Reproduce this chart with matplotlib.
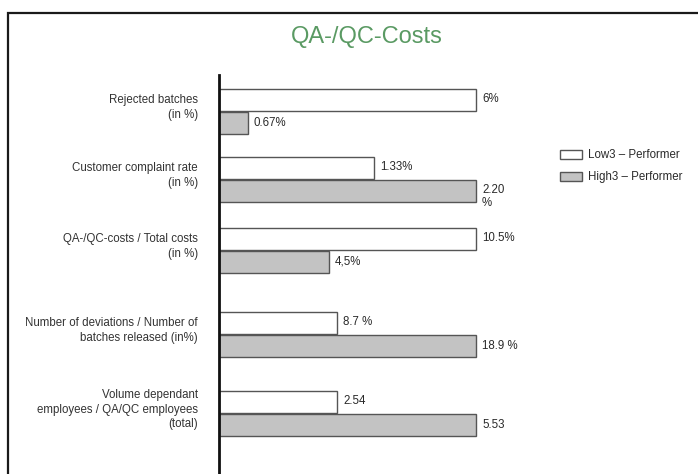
import matplotlib
matplotlib.use("Agg")
import matplotlib.pyplot as plt
from matplotlib.patches import Rectangle, Patch
import numpy as np

# ---- data ----
categories = [
    "Rejected batches\n(in %)",
    "Customer complaint rate\n(in %)",
    "QA-/QC-costs / Total costs\n(in %)",
    "Number of deviations / Number of\nbatches released (in%)",
    "Volume dependant\nemployees / QA/QC employees\n(total)",
]
low3_values = [6.0, 1.33, 10.5, 8.7, 2.54]
high3_values = [0.67, 2.20, 4.5, 18.9, 5.53]
low3_labels = ["6%", "1.33%", "10.5%", "8.7 %", "2.54"]
high3_labels = ["0.67%", "2.20\n%", "4,5%", "18.9 %", "5.53"]
series_names = ["Low3 \u2013 Performer", "High3 \u2013 Performer"]
title = "QA-/QC-Costs"

# ---- layout (pixels) ----
W, H, DPI = 698, 474, 100
row_centres_px = [111, 179, 250, 334, 413]   # vertical centre of each bar pair
axis_x_px, axis_top_px = 219, 75
full_bar_px = 476 - axis_x_px               # length of the longer bar in a pair
bar_h_px = 22

FONT = ["Liberation Sans", "DejaVu Sans"]
plt.rcParams["font.family"] = FONT
GRAY = "#c3c3c3"
EDGE = "#555555"
TEXT = "#2a2a2a"
SMALL = 8.3

fig = plt.figure(figsize=(W / DPI, H / DPI), dpi=DPI)
fig.patch.set_facecolor("white")

# outer frame (open to the right and bottom)
fig.patches.append(Rectangle((8 / W, -0.1), 1.2, 1 - 13 / H + 0.1,
                             transform=fig.transFigure, fill=False,
                             edgecolor="#1a1a1a", linewidth=1.6))

fig.text(367 / W, 1 - 37 / H, title, ha="center", va="center",
         fontsize=17, color="#5a9a63")

# axes in pixel units: x = fraction of the longer bar, y = pixel rows
ax = fig.add_axes([axis_x_px / W, 0, (W - axis_x_px) / W, (H - axis_top_px) / H])
ax.set_xlim(0, (W - axis_x_px) / full_bar_px)
ax.set_ylim(H, axis_top_px)

y = np.array(row_centres_px, dtype=float)
off = bar_h_px / 2 + 0.5

# each indicator is shown relative to the larger of its two values
row_max = np.maximum(low3_values, high3_values)
low_rel = np.array(low3_values) / row_max
high_rel = np.array(high3_values) / row_max

ax.barh(y - off, low_rel, height=bar_h_px, color="white", edgecolor=EDGE, linewidth=1.0)
ax.barh(y + off, high_rel, height=bar_h_px, color=GRAY, edgecolor=EDGE, linewidth=1.0)

pad = 6 / full_bar_px
for i in range(len(categories)):
    ax.text(low_rel[i] + pad, y[i] - off - 1, low3_labels[i], ha="left", va="center",
            fontsize=SMALL, color=TEXT)
    two_line = "\n" in high3_labels[i]
    ax.text(high_rel[i] + pad, y[i] + off + (6 if two_line else 0),
            high3_labels[i], ha="left", va="center", fontsize=SMALL, color=TEXT,
            linespacing=1.15)
    ax.text(-21 / full_bar_px, y[i] - 3.5, categories[i], ha="right", va="center",
            fontsize=SMALL, color="#333333", linespacing=1.3)

for s in ["top", "right", "bottom"]:
    ax.spines[s].set_visible(False)
ax.spines["left"].set_linewidth(2.0)
ax.spines["left"].set_color("#111111")
ax.set_xticks([])
ax.set_yticks([])
ax.patch.set_alpha(0)

handles = [Patch(facecolor="white", edgecolor=EDGE, linewidth=1.0),
           Patch(facecolor=GRAY, edgecolor=EDGE, linewidth=1.0)]
fig.legend(handles, series_names, loc="upper left",
           bbox_to_anchor=(558 / W, 1 - 147 / H), frameon=False, fontsize=SMALL,
           handlelength=1.9, handleheight=0.85, handletextpad=0.5,
           labelspacing=0.85, borderaxespad=0, borderpad=0.2, labelcolor=TEXT)

fig.savefig("out.png", dpi=DPI)
